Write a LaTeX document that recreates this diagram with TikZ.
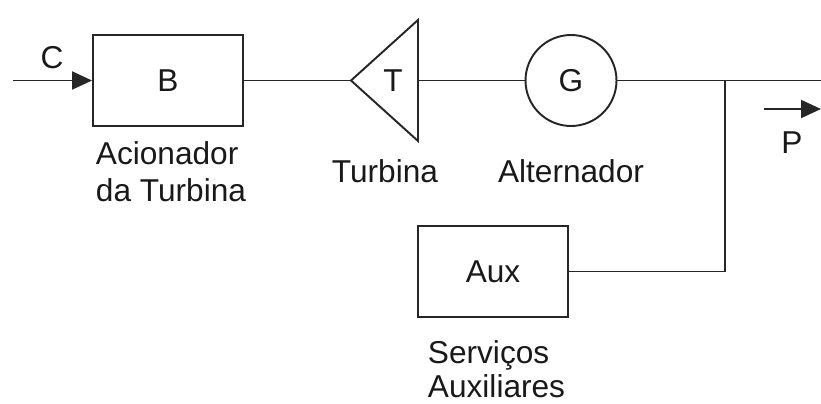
\documentclass[tikz,border=0pt]{standalone}
\usepackage{fontspec}
\setmainfont{Liberation Sans}
\usetikzlibrary{arrows.meta}

\begin{document}
\begin{tikzpicture}[x=0.02cm, y=-0.02cm, line width=1.1pt,
    every node/.style={font=\fontsize{18}{20.5}\selectfont, text=black!90},
    block/.style={rectangle, draw=black!85, minimum width=3cm, minimum height=1.82cm},
    gen/.style={circle, draw=black!85, minimum size=1.82cm, inner sep=0pt},
    wire/.style={draw=black!85},
    flow/.style={draw=black!85, -{Triangle[length=0.4cm, width=0.36cm]}}]
  \useasboundingbox (0,0) rectangle (821,403);

  % blocks
  \node (B) [block] at (168,80.5) {B};
  \node (G) [gen] at (571,80.5) {G};
  \node (Aux) [block] at (493,271.5) {Aux};

  % turbine triangle
  \coordinate (Ttip) at (351,80.5);
  \coordinate (Ttop) at (418,20);
  \coordinate (Tbot) at (418,141);
  \coordinate (Tback) at (418,80.5);
  \draw[wire, line join=miter] (Ttip) -- (Ttop) -- (Tbot) -- cycle;
  \node (T) at (393,80.5) {T};

  % connections
  \coordinate (Cin) at (13,80.5);
  \coordinate (out) at (821,80.5);
  \coordinate (junc) at (725,80.5);
  \draw[flow] (Cin) -- (B);
  \draw[wire] (B) -- (Ttip);
  \draw[wire] (Tback) -- (G);
  \draw[wire] (G) -- (out);
  \draw[wire] (junc) |- (Aux);

  % power arrow
  \coordinate (P0) at (764,109);
  \coordinate (P1) at (821,109);
  \draw[flow] (P0) -- (P1);

  % labels
  \node (C) at (52,57.5) {C};
  \node (P) at (792,143) {P};
  \node (lblB) [anchor=base west, align=left, inner sep=0pt] at (95,201) {Acionador\\da Turbina};
  \node (lblT) [anchor=base, inner sep=0pt] at (385,182) {Turbina};
  \node (lblG) [anchor=base, inner sep=0pt] at (571,182) {Alternador};
  \node (lblAux) [anchor=base west, align=left, inner sep=0pt,
    font=\fontsize{18}{18.8}\selectfont] at (427,397) {Serviços\\Auxiliares};
\end{tikzpicture}
\end{document}
